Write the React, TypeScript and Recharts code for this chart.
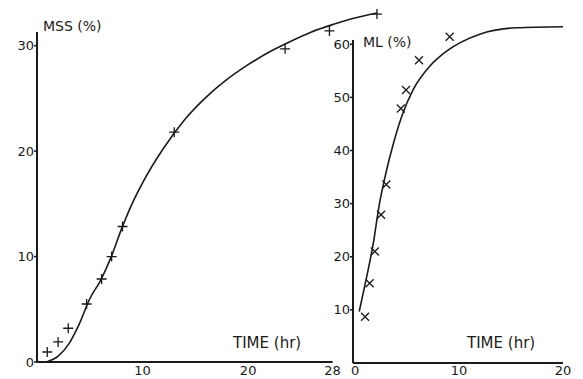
import React from 'react';
import { ComposedChart, Line, Scatter, XAxis, YAxis, ReferenceLine } from 'recharts';

// MSS (%) vs time, measured points
const mssHours = [0.97, 2.0, 2.96, 4.7, 6.12, 7.07, 8.1, 13.0, 23.5, 27.7, 32.2];
const mssPct = [0.95, 1.9, 3.2, 5.5, 7.87, 10.0, 12.85, 21.8, 29.7, 31.4, 33.0];
// MSS fitted curve
const mssFitHours = [0.9, 2, 3, 4, 5, 6, 7, 8, 9, 10, 12, 14, 16, 18, 20, 22, 24, 26, 28, 30, 32.2];
const mssFitPct = [0, 0.55, 1.7, 3.6, 6.0, 7.7, 9.9, 12.6, 15.0, 17.0, 20.3, 23.0, 25.1, 26.8, 28.2, 29.4, 30.4, 31.3, 32.0, 32.6, 33.1];

// ML (%) vs time, measured points
const mlHours = [0.96, 1.4, 1.9, 2.5, 3.0, 4.4, 4.9, 6.15, 9.1];
const mlPct = [8.7, 15.0, 21.0, 27.9, 33.6, 47.9, 51.4, 57.0, 61.4];
// ML fitted curve
const mlFitHours = [0.4, 1.06, 1.76, 2.3, 2.9, 3.7, 4.5, 5.6, 7.2, 8.8, 12, 15.5, 20];
const mlFitPct = [9.7, 15.7, 22.6, 29.5, 35.2, 41.4, 46.5, 51.5, 55.9, 58.7, 61.9, 63.1, 63.3];

const mssTicksX = [10, 20, 28];
const mssTicksY = [0, 10, 20, 30];
const mlTicksX = [0, 10, 20];
const mlTicksY = [10, 20, 30, 40, 50, 60];

const INK = '#1a1a1a';
const FONT = '"DejaVu Sans", sans-serif';

const toPoints = (xs: number[], ys: number[]) => xs.map((x, i) => ({ x, y: ys[i] }));

const mssPoints = toPoints(mssHours, mssPct);
const mssFit = toPoints(mssFitHours, mssFitPct);
const mlPoints = toPoints(mlHours, mlPct);
const mlFit = toPoints(mlFitHours, mlFitPct);

const Plus = (props: any) => {
  const { cx, cy } = props;
  return (
    <path
      d={`M${cx - 5},${cy}H${cx + 5}M${cx},${cy - 5}V${cy + 5}`}
      stroke={INK}
      strokeWidth={1.3}
      fill="none"
    />
  );
};

const Cross = (props: any) => {
  const { cx, cy } = props;
  return (
    <path
      d={`M${cx - 4},${cy - 4}L${cx + 4},${cy + 4}M${cx + 4},${cy - 4}L${cx - 4},${cy + 4}`}
      stroke={INK}
      strokeWidth={1.3}
      fill="none"
    />
  );
};

const tickStyle = { fill: INK, fontSize: 13, fontFamily: FONT };

const title = (left: number, top: number, size: number): React.CSSProperties => ({
  position: 'absolute',
  left,
  top,
  fontFamily: FONT,
  fontSize: size,
  lineHeight: `${size}px`,
  color: INK,
  whiteSpace: 'nowrap',
});

export default function App() {
  return (
    <div style={{ position: 'absolute', left: 0, top: 0, width: 583, height: 379, background: '#fff', overflow: 'hidden' }}>
      {/* left panel: MSS */}
      <div style={{ position: 'absolute', left: 0, top: 0 }}>
        <ComposedChart width={583} height={379} margin={{ top: 13, right: 205, bottom: 0, left: 0 }}>
          <XAxis
            dataKey="x"
            type="number"
            domain={[0, 32.3]}
            ticks={mssTicksX}
            axisLine={false}
            tickLine={false}
            tickSize={0}
            tickMargin={4}
            height={17}
            tick={tickStyle}
          />
          <YAxis
            dataKey="y"
            type="number"
            domain={[0, 33]}
            ticks={mssTicksY}
            width={37}
            axisLine={false}
            tickLine={{ stroke: INK, strokeWidth: 1.5 }}
            tickSize={3}
            tickMargin={0}
            tick={tickStyle}
          />
          <ReferenceLine segment={[{ x: 0, y: 0 }, { x: 28, y: 0 }]} stroke={INK} strokeWidth={2} />
          <ReferenceLine segment={[{ x: 0, y: 0 }, { x: 0, y: 31.3 }]} stroke={INK} strokeWidth={2} />
          <Line
            data={mssFit}
            dataKey="y"
            type="monotone"
            stroke={INK}
            strokeWidth={1.6}
            dot={false}
            isAnimationActive={false}
          />
          <Scatter data={mssPoints} dataKey="y" shape={Plus} isAnimationActive={false} />
        </ComposedChart>
      </div>

      {/* right panel: ML */}
      <div style={{ position: 'absolute', left: 0, top: 0 }}>
        <ComposedChart width={583} height={379} margin={{ top: 23, right: 20, bottom: 0, left: 0 }}>
          <XAxis
            dataKey="x"
            type="number"
            domain={[-0.2, 20]}
            ticks={mlTicksX}
            axisLine={{ stroke: INK, strokeWidth: 2 }}
            tickLine={false}
            tickSize={0}
            tickMargin={3}
            height={16}
            tick={tickStyle}
          />
          <YAxis
            dataKey="y"
            type="number"
            domain={[0, 64]}
            ticks={mlTicksY}
            width={353}
            axisLine={false}
            tickLine={{ stroke: INK, strokeWidth: 1.5 }}
            tickSize={3}
            tickMargin={0}
            tick={tickStyle}
          />
          <ReferenceLine segment={[{ x: -0.2, y: 0 }, { x: -0.2, y: 60.8 }]} stroke={INK} strokeWidth={2} />
          <Line
            data={mlFit}
            dataKey="y"
            type="monotone"
            stroke={INK}
            strokeWidth={1.6}
            dot={false}
            isAnimationActive={false}
          />
          <Scatter data={mlPoints} dataKey="y" shape={Cross} isAnimationActive={false} />
        </ComposedChart>
      </div>

      <div style={title(43, 19, 14)}>MSS (%)</div>
      <div style={title(363, 35, 14)}>ML (%)</div>
      <div style={title(233, 336, 15)}>TIME (hr)</div>
      <div style={title(467, 336, 15)}>TIME (hr)</div>
    </div>
  );
}
